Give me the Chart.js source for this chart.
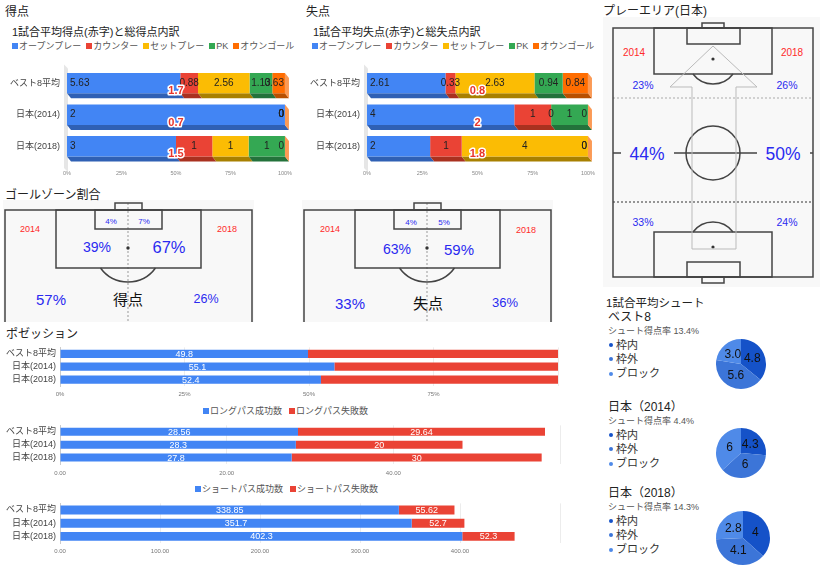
<!DOCTYPE html>
<html><head><meta charset="utf-8">
<script src="https://cdn.jsdelivr.net/npm/chart.js@4.4.1/dist/chart.umd.min.js"></script>
<style>
html,body{margin:0;padding:0;background:#fff}
#root{position:relative;width:822px;height:575px;overflow:hidden;font-family:"Liberation Sans","Noto Sans CJK JP",sans-serif}
.t{position:absolute;white-space:nowrap}
canvas{position:absolute}
svg{position:absolute;left:0;top:0}
.lg{position:absolute;white-space:nowrap;font-size:9px;color:#555;display:flex;align-items:center;line-height:12px}
.lg i{display:inline-block;width:6px;height:6px;margin-right:1px}
</style></head><body><div id="root"><svg id="pitch" width="822" height="575"></svg></div>
<script>
// ---------- data ----------
const rowLabels = ['ベスト8平均','日本(2014)','日本(2018)'];
const goalTypes = ['オープンプレー','カウンター','セットプレー','PK','オウンゴール'];
const scoredOpen = [5.63, 2, 3];
const scoredCounter = [0.88, 0, 1];
const scoredSet = [2.56, 0, 1];
const scoredPK = [1.13, 0, 1];
const scoredOG = [0.63, 0, 0];
const scoredAvg = ['1.7','0.7','1.5'];
const concededOpen = [2.61, 4, 2];
const concededCounter = [0.33, 1, 1];
const concededSet = [2.63, 0, 4];
const concededPK = [0.94, 1, 0];
const concededOG = [0.84, 0, 0];
const concededAvg = ['0.8','2','1.8'];
const possession = [49.8, 55.1, 52.4];
const possessionOpp = [50.2, 44.9, 47.6];
const longPassSeries = ['ロングパス成功数','ロングパス失敗数'];
const longOk = [28.56, 28.3, 27.8];
const longNg = [29.64, 20, 30];
const shortPassSeries = ['ショートパス成功数','ショートパス失敗数'];
const shortOk = [338.85, 351.7, 402.3];
const shortNg = [55.62, 52.7, 52.3];
const shotLabels = ['枠内','枠外','ブロック'];
const shotTitles = ['ベスト8','日本（2014）','日本（2018）'];
const shotRates = ['13.4%','4.4%','14.3%'];
const shotBest8 = [4.8, 5.6, 3.0];
const shot2014 = [4.3, 6, 6];
const shot2018 = [4, 4.1, 2.8];
const zoneYears = ['2014','2018'];
const gzScoredSmall = ['4%','7%'];
const gzScoredBox = ['39%','67%'];
const gzScoredOut = ['57%','26%'];
const gzConcededSmall = ['4%','5%'];
const gzConcededBox = ['63%','59%'];
const gzConcededOut = ['33%','36%'];
const playAttack = ['23%','26%'];
const playMiddle = ['44%','50%'];
const playDefense = ['33%','24%'];

// ---------- styles ----------
const FONT = '"Liberation Sans","Noto Sans CJK JP",sans-serif';
Chart.defaults.font.family = FONT;
const goalColors = ['#4285F4','#EA4335','#FBBC04','#34A853','#FF6D01'];
const goalShade = ['#2f60b4','#a9311f','#a88000','#23723b','#b84f00'];
const BLUE = '#4285F4', RED = '#EA4335';
const shotColors = ['#1552c8','#3c75d8','#4f8ae8'];
const PCT = '#2a2af0', YR = '#ff2a2a';
const root = document.getElementById('root');

function T(s,x,y,size,color,opt={}){
  const d=document.createElement('div'); d.className='t'; d.textContent=s;
  const L=Math.round(size*1.4);
  d.style.cssText+=`left:${x}px;top:${y-L/2}px;font-size:${size}px;line-height:${L}px;color:${color};`+
    (opt.center?'transform:translateX(-50%);':'')+(opt.bold?'font-weight:bold;':'');
  root.appendChild(d); return d;
}
function mkCanvas(b){
  const c=document.createElement('canvas'); c.width=b.w; c.height=b.h;
  c.style.left=b.x+'px'; c.style.top=b.y+'px'; c.style.width=b.w+'px'; c.style.height=b.h+'px';
  root.appendChild(c); return c;
}
function legend(x,y,names,colors,gap){
  const d=document.createElement('div'); d.className='lg'; d.style.left=x+'px'; d.style.top=(y-6)+'px';
  names.forEach((n,i)=>{const it=document.createElement('span'); it.style.display='inline-flex'; it.style.alignItems='center'; it.style.marginRight=gap+'px';
    it.innerHTML=`<i style="background:${colors[i]}"></i>`; it.appendChild(document.createTextNode(n)); d.appendChild(it);});
  root.appendChild(d);
}

// ---------- headings ----------
T('得点',5,12,12,'#222');
T('1試合平均得点(赤字)と総得点内訳',12,32,11,'#222');
T('失点',306,12,12,'#222');
T('1試合平均失点(赤字)と総失点内訳',313,32,11,'#222');
T('プレーエリア(日本)',603,11,12,'#222');
T('ゴールゾーン割合',5,195,12,'#222');
T('ポゼッション',6,334,12,'#222');
legend(12,46,goalTypes,goalColors,5);
legend(312,46,goalTypes,goalColors,5);

// ---------- pitches (illustration) ----------
const S='#444';
function goalPitch(ox){
  return `<rect x="${3+ox}" y="200" width="251" height="122" fill="#f8f8f8"/>
  <line x1="${128+ox}" y1="203" x2="${128+ox}" y2="322" stroke="#999" stroke-dasharray="2,2" stroke-width="1"/>
  <path d="M${5+ox} 322 V210 H${252+ox} V322" fill="none" stroke="${S}" stroke-width="1.5"/>
  <rect x="${115+ox}" y="203" width="27" height="7" fill="none" stroke="${S}" stroke-width="1.5"/>
  <rect x="${56+ox}" y="210" width="145" height="58" fill="none" stroke="${S}" stroke-width="1.5"/>
  <rect x="${95+ox}" y="210" width="67" height="19" fill="none" stroke="${S}" stroke-width="1.5"/>
  <circle cx="${128+ox}" cy="248" r="1.7" fill="#333"/>
  <path d="M${100.5+ox} 268 A34 34 0 0 0 ${155.5+ox} 268" fill="none" stroke="${S}" stroke-width="1.5"/>`;
}
const playPitch = `<rect x="603" y="17" width="217" height="270" fill="#f8f8f8"/>
  <line x1="613" y1="98" x2="813" y2="98" stroke="#aaa" stroke-dasharray="2,2"/>
  <line x1="613" y1="202" x2="813" y2="202" stroke="#333" stroke-dasharray="2,2"/>
  <rect x="613" y="28" width="200" height="249" fill="none" stroke="${S}" stroke-width="1.5"/>
  <rect x="702" y="23" width="22" height="5" fill="none" stroke="${S}" stroke-width="1.5"/>
  <rect x="654" y="28" width="118" height="46" fill="none" stroke="${S}" stroke-width="1.5"/>
  <rect x="687" y="28" width="53" height="16" fill="none" stroke="${S}" stroke-width="1.5"/>
  <circle cx="713" cy="59" r="1.6" fill="#333"/>
  <path d="M693 74 A25 25 0 0 0 733 74" fill="none" stroke="${S}" stroke-width="1.5"/>
  <path d="M613 153 H621 M674 153 H757 M810 153 H813" fill="none" stroke="${S}" stroke-width="1.5"/>
  <circle cx="713" cy="153" r="27" fill="none" stroke="${S}" stroke-width="1.5"/>
  <rect x="654" y="232" width="118" height="45" fill="none" stroke="${S}" stroke-width="1.5"/>
  <rect x="687" y="262" width="53" height="15" fill="none" stroke="${S}" stroke-width="1.5"/>
  <rect x="702" y="277" width="22" height="6" fill="none" stroke="${S}" stroke-width="1.5"/>
  <circle cx="713" cy="247" r="1.6" fill="#333"/>
  <path d="M693 232 A25 25 0 0 1 733 232" fill="none" stroke="${S}" stroke-width="1.5"/>
  <polygon points="713,46 757,87 736,87 736,249 692,249 692,87 670,87" fill="none" stroke="#bbb" stroke-width="1"/>`;
document.getElementById('pitch').innerHTML = goalPitch(0) + goalPitch(299) + playPitch;

// play area texts
T(zoneYears[0],634,53,10,YR,{center:true}); T(zoneYears[1],792,53,10,YR,{center:true});
T(playAttack[0],643,85,10.5,PCT,{center:true}); T(playAttack[1],787,85,10.5,PCT,{center:true});
T(playMiddle[0],647,154,17.5,PCT,{center:true}); T(playMiddle[1],783,154,17.5,PCT,{center:true});
T(playDefense[0],643,222,10.5,PCT,{center:true}); T(playDefense[1],787,222,10.5,PCT,{center:true});
// goal zone texts
T(gzScoredSmall[0],111,221,8,PCT,{center:true}); T(gzScoredSmall[1],144,221,8,PCT,{center:true});
T(zoneYears[0],30,229,9,YR,{center:true}); T(zoneYears[1],227,229,9,YR,{center:true});
T(gzScoredBox[0],97,247,14,PCT,{center:true}); T(gzScoredBox[1],169,247,16.5,PCT,{center:true});
T(gzScoredOut[0],51,299,15,PCT,{center:true}); T('得点',128,299,15,'#111',{center:true}); T(gzScoredOut[1],206,299,12.5,PCT,{center:true});
T(gzConcededSmall[0],411,222,8,PCT,{center:true}); T(gzConcededSmall[1],444,222,8,PCT,{center:true});
T(zoneYears[0],330,229,9,YR,{center:true}); T(zoneYears[1],526,230,9,YR,{center:true});
T(gzConcededBox[0],397,249,14,PCT,{center:true}); T(gzConcededBox[1],459,249,15,PCT,{center:true});
T(gzConcededOut[0],350,303,15,PCT,{center:true}); T('失点',428,303,15,'#111',{center:true}); T(gzConcededOut[1],505,303,13,PCT,{center:true});

// ---------- chart helpers ----------
function pct(rows){
  const totals = rows[0].map((_,i)=>rows.reduce((s,r)=>s+r[i],0));
  return rows.map(r=>r.map((v,i)=>totals[i]? v/totals[i]*100 : 0));
}
function shade3D(){
  return {id:'shade3d', beforeDatasetsDraw(chart){
    const ctx=chart.ctx, a=chart.chartArea; ctx.save();
    ctx.fillStyle='#e6e6e6';
    ctx.beginPath(); ctx.moveTo(a.left-3,a.top-3); ctx.lineTo(a.left+1,a.top+1); ctx.lineTo(a.left+1,a.bottom+10); ctx.lineTo(a.left-3,a.bottom+6); ctx.closePath(); ctx.fill();
    const n=chart.data.datasets.length;
    for(let di=0;di<n;di++){
      chart.getDatasetMeta(di).data.forEach(el=>{
        const {x,y,base,height}=el.getProps(['x','y','base','height'],true);
        if(x-base<=0.01) return;
        const b=y+height/2;
        ctx.fillStyle=goalShade[di];
        ctx.beginPath(); ctx.moveTo(base,b); ctx.lineTo(x,b); ctx.lineTo(x+4,b+5); ctx.lineTo(base+4,b+5); ctx.closePath(); ctx.fill();
      });
    }
    chart.getDatasetMeta(n-1).data.forEach(el=>{
      const {x,y,height}=el.getProps(['x','y','height'],true);
      const t=y-height/2, b=y+height/2;
      ctx.fillStyle='#fb9a55';
      ctx.beginPath(); ctx.moveTo(x,t); ctx.lineTo(x+4,t+5); ctx.lineTo(x+4,b+5); ctx.lineTo(x,b); ctx.closePath(); ctx.fill();
    });
    ctx.restore();
  }};
}
function segLabels(raws, avgs){
  return {id:'seglabels', afterDatasetsDraw(chart){
    const ctx=chart.ctx, a=chart.chartArea; ctx.save();
    ctx.font='10px '+FONT; ctx.textBaseline='middle'; ctx.fillStyle='#222';
    chart.data.datasets.forEach((ds,di)=>{
      chart.getDatasetMeta(di).data.forEach((el,i)=>{
        const {x,y,base}=el.getProps(['x','y','base'],true);
        const s=String(raws[di][i]); const w=ctx.measureText(s).width;
        if(di===0){ ctx.textAlign='left'; ctx.fillText(s,base+3,y); }
        else { ctx.textAlign='center'; ctx.fillText(s,Math.min((base+x)/2, a.right-w/2-1),y); }
      });
    });
    ctx.font='bold 11px '+FONT; ctx.textAlign='center'; ctx.lineWidth=3; ctx.lineJoin='round';
    ctx.strokeStyle='#fff'; ctx.fillStyle='#e8352b';
    const xs=chart.scales.x, ys=chart.scales.y;
    avgs.forEach((v,i)=>{ const px=xs.getPixelForValue(50), py=ys.getPixelForValue(i)+8; ctx.strokeText(v,px,py); ctx.fillText(v,px,py); });
    ctx.restore();
  }};
}
function innerLabels(sets){
  return {id:'inner', afterDatasetsDraw(chart){
    const ctx=chart.ctx; ctx.save(); ctx.font='9px '+FONT; ctx.fillStyle='#fff'; ctx.textAlign='center'; ctx.textBaseline='middle';
    sets.forEach(di=>{ const ds=chart.data.datasets[di];
      chart.getDatasetMeta(di).data.forEach((el,i)=>{ const {x,y,base}=el.getProps(['x','y','base'],true);
        ctx.fillText(String(ds.data[i]),(x+base)/2,y+0.5); }); });
    ctx.restore();
  }};
}
function baseOpts(box, area){
  return {indexAxis:'y', responsive:false, animation:false, events:[],
    layout:{padding:{top:area.t-box.y, right:box.x+box.w-area.r, left:0, bottom:0}},
    plugins:{legend:{display:false}, tooltip:{enabled:false}}};
}
function topChart(box, area, series, avgs){
  const p=pct(series);
  const o=baseOpts(box,area);
  o.scales={
    x:{stacked:true,min:0,max:100,afterFit:s=>{s.height=box.y+box.h-area.b;},grid:{display:false,drawTicks:false},border:{display:false},
       ticks:{stepSize:25,callback:v=>v+'%',font:{size:5.5},color:'#888',padding:8,maxRotation:0}},
    y:{stacked:true,afterFit:s=>{s.width=area.l-box.x;},grid:{display:false,drawTicks:false},border:{display:false},
       ticks:{font:{size:9},color:'#444',padding:7,autoSkip:false}}};
  new Chart(mkCanvas(box),{type:'bar',
    data:{labels:rowLabels,datasets:p.map((d,i)=>({label:goalTypes[i],data:d,backgroundColor:goalColors[i],borderWidth:0,barPercentage:22/34,categoryPercentage:1}))},
    options:o, plugins:[shade3D(), segLabels(series,avgs)]});
}
function flatChart(box, area, sets, colors, names, max, step, fmt, pad, barPct, labelSets){
  const o=baseOpts(box,area);
  o.scales={
    x:{stacked:true,min:0,max:max,afterFit:s=>{s.height=box.y+box.h-area.b;},
       grid:{color:'#ececec',drawTicks:false},border:{display:false},
       ticks:{stepSize:step,callback:v=>v===max?'':fmt(v),font:{size:6},color:'#777',padding:pad,maxRotation:0}},
    y:{stacked:true,afterFit:s=>{s.width=area.l-box.x;},grid:{display:false,drawTicks:false},border:{display:true,color:'#ccc'},
       ticks:{font:{size:9},color:'#444',padding:4,autoSkip:false}}};
  new Chart(mkCanvas(box),{type:'bar',
    data:{labels:rowLabels,datasets:sets.map((d,i)=>({label:names[i],data:d,backgroundColor:colors[i],borderWidth:0,barPercentage:barPct,categoryPercentage:1}))},
    options:o, plugins:[innerLabels(labelSets)]});
}

// ---------- charts ----------
topChart({x:0,y:55,w:300,h:125},{l:67,t:60,r:293,b:162},[scoredOpen,scoredCounter,scoredSet,scoredPK,scoredOG],scoredAvg);
topChart({x:303,y:55,w:300,h:125},{l:367,t:60,r:596,b:162},[concededOpen,concededCounter,concededSet,concededPK,concededOG],concededAvg);

flatChart({x:0,y:338,w:575,h:62},{l:60,t:344,r:558,b:386},[possession,possessionOpp],[BLUE,RED],['日本','相手'],100,25,v=>v+'%',5,9/14,[0]);
legend(203,411,longPassSeries,[BLUE,RED],7);
flatChart({x:0,y:416,w:575,h:64},{l:60,t:420.5,r:560,b:464},[longOk,longNg],[BLUE,RED],longPassSeries,60,20,v=>v.toFixed(2),6,9/14.5,[0,1]);
legend(195,489,shortPassSeries,[BLUE,RED],7);
flatChart({x:0,y:494,w:575,h:66},{l:60,t:498.5,r:560,b:543},[shortOk,shortNg],[BLUE,RED],shortPassSeries,500,100,v=>v.toFixed(2),5,10/14.75,[0,1]);

// ---------- shots ----------
T('1試合平均シュート',606,303,11.5,'#222');
function pie(cx,cy,r,values,fmt){
  const pad=4, size=2*r+2*pad;
  new Chart(mkCanvas({x:cx-size/2,y:cy-size/2,w:size,h:size}),{type:'pie',
    data:{labels:shotLabels,datasets:[{data:values,backgroundColor:shotColors,borderWidth:0}]},
    options:{responsive:false,animation:false,events:[],layout:{padding:pad},plugins:{legend:{display:false},tooltip:{enabled:false}}},
    plugins:[{id:'pielabels',afterDatasetsDraw(chart){
      const ctx=chart.ctx; ctx.save(); ctx.font='12px '+FONT; ctx.fillStyle='#111'; ctx.textAlign='center'; ctx.textBaseline='middle';
      chart.getDatasetMeta(0).data.forEach((el,i)=>{ const p=el.tooltipPosition(true); ctx.fillText(fmt(values[i]),p.x,p.y); });
      ctx.restore();}}]});
}
const shotBlocks=[
  {y:317, vals:shotBest8, fmt:v=>v.toFixed(1), cx:741, cy:364, r:25},
  {y:407, vals:shot2014, fmt:v=>String(v), cx:741, cy:453, r:25},
  {y:493, vals:shot2018, fmt:v=>String(v), cx:743, cy:538, r:27}
];
shotBlocks.forEach((b,k)=>{
  T(shotTitles[k],608,b.y,12,'#222');
  T('シュート得点率 '+shotRates[k],608,b.y+14.5,9,'#555');
  shotLabels.forEach((l,i)=>{
    const yy=b.y+28+i*14.3;
    const dot=document.createElement('div'); dot.style.cssText=`position:absolute;left:${608.5}px;top:${yy-2}px;width:4px;height:4px;border-radius:2px;background:${shotColors[i]}`;
    root.appendChild(dot);
    T(l,616,yy,11,'#333');
  });
  pie(b.cx,b.cy,b.r,b.vals,b.fmt);
});
</script></body></html>
